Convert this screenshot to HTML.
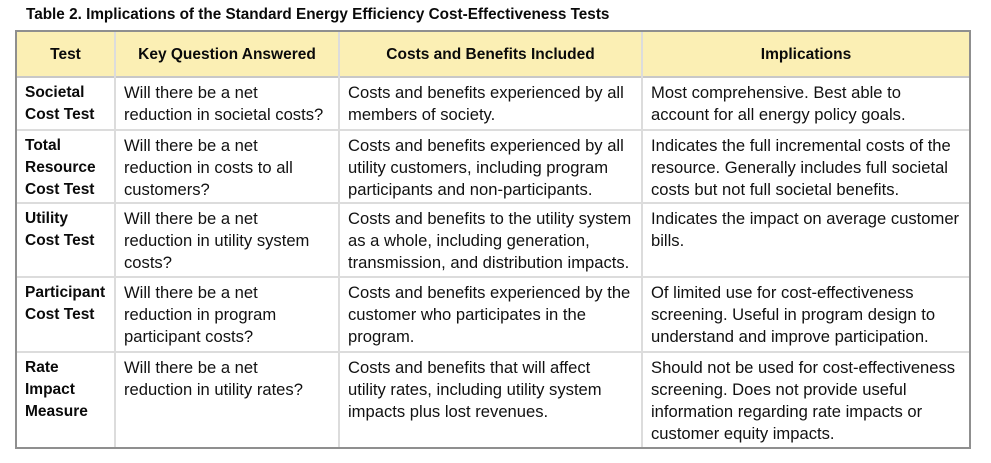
<!DOCTYPE html>
<html><head><meta charset="utf-8">
<style>
html,body{margin:0;padding:0;background:#fff;}
#c{position:relative;width:991px;height:463px;overflow:hidden;background:#fff;font-family:"Liberation Sans",Arial,sans-serif;color:#111;}
.title{position:absolute;left:26px;top:5px;font-size:15.3px;font-weight:bold;line-height:20px;white-space:nowrap;color:#0a0a0a;}
.hdr{position:absolute;left:15px;top:30px;width:956px;height:47px;background:#fbefb4;}
.box{position:absolute;left:15px;top:30px;width:956px;height:419px;border:2px solid #8f8f8f;box-sizing:border-box;}
.v{position:absolute;top:32px;width:2px;height:415px;background:#dcdcdc;}
.h{position:absolute;left:17px;width:952px;height:2px;background:#dcdcdc;}
.ht{position:absolute;top:44px;font-size:15.5px;font-weight:bold;line-height:22px;text-align:center;white-space:nowrap;color:#0a0a0a;}
.t{position:absolute;font-size:16.6px;line-height:22px;white-space:nowrap;}
.b{position:absolute;font-size:15.5px;font-weight:bold;line-height:22px;white-space:nowrap;color:#0a0a0a;}
</style></head><body>
<div id="c">
<div class="title">Table 2. Implications of the Standard Energy Efficiency Cost-Effectiveness Tests</div>
<div class="hdr"></div>
<div class="h" style="top:76px;background:#c8c8c8"></div>
<div class="h" style="top:129px"></div>
<div class="h" style="top:202px"></div>
<div class="h" style="top:276px"></div>
<div class="h" style="top:351px"></div>
<div class="v" style="left:114px"></div>
<div class="v" style="left:338px"></div>
<div class="v" style="left:641px"></div>
<div class="box"></div>

<div class="ht" style="left:17px;width:97px">Test</div>
<div class="ht" style="left:116px;width:222px">Key Question Answered</div>
<div class="ht" style="left:340px;width:301px">Costs and Benefits Included</div>
<div class="ht" style="left:643px;width:326px">Implications</div>

<!-- row 1 -->
<div class="b" style="left:25px;top:82px">Societal<br>Cost Test</div>
<div class="t" style="left:124px;top:81.5px">Will there be a net<br>reduction in societal costs?</div>
<div class="t" style="left:348px;top:81.5px">Costs and benefits experienced by all<br>members of society.</div>
<div class="t" style="left:651px;top:81.5px">Most comprehensive. Best able to<br>account for all energy policy goals.</div>

<!-- row 2 -->
<div class="b" style="left:25px;top:135px">Total<br>Resource<br>Cost Test</div>
<div class="t" style="left:124px;top:134.5px">Will there be a net<br>reduction in costs to all<br>customers?</div>
<div class="t" style="left:348px;top:134.5px">Costs and benefits experienced by all<br>utility customers, including program<br>participants and non-participants.</div>
<div class="t" style="left:651px;top:134.5px">Indicates the full incremental costs of the<br>resource. Generally includes full societal<br>costs but not full societal benefits.</div>

<!-- row 3 -->
<div class="b" style="left:25px;top:208px">Utility<br>Cost Test</div>
<div class="t" style="left:124px;top:207.5px">Will there be a net<br>reduction in utility system<br>costs?</div>
<div class="t" style="left:348px;top:207.5px">Costs and benefits to the utility system<br>as a whole, including generation,<br>transmission, and distribution impacts.</div>
<div class="t" style="left:651px;top:207.5px">Indicates the impact on average customer<br>bills.</div>

<!-- row 4 -->
<div class="b" style="left:25px;top:282px">Participant<br>Cost Test</div>
<div class="t" style="left:124px;top:281.5px">Will there be a net<br>reduction in program<br>participant costs?</div>
<div class="t" style="left:348px;top:281.5px">Costs and benefits experienced by the<br>customer who participates in the<br>program.</div>
<div class="t" style="left:651px;top:281.5px">Of limited use for cost-effectiveness<br>screening. Useful in program design to<br>understand and improve participation.</div>

<!-- row 5 -->
<div class="b" style="left:25px;top:357px">Rate<br>Impact<br>Measure</div>
<div class="t" style="left:124px;top:356.5px">Will there be a net<br>reduction in utility rates?</div>
<div class="t" style="left:348px;top:356.5px">Costs and benefits that will affect<br>utility rates, including utility system<br>impacts plus lost revenues.</div>
<div class="t" style="left:651px;top:356.5px">Should not be used for cost-effectiveness<br>screening. Does not provide useful<br>information regarding rate impacts or<br>customer equity impacts.</div>
</div>
</body></html>
